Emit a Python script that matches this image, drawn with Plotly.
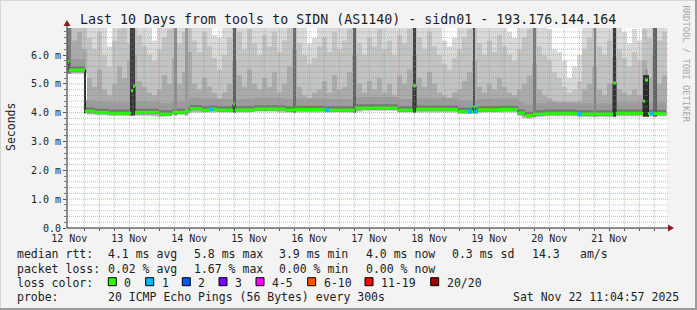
import plotly.graph_objects as go
import pandas as pd

# ---------------- data ----------------
title_text = "Last 10 Days from tools to SIDN (AS1140) - sidn01 - 193.176.144.164"
t_start = pd.Timestamp("2025-11-12 11:04:57")
t_end = pd.Timestamp("2025-11-22 11:04:57")
day_label_times = pd.date_range("2025-11-12 12:00", "2025-11-21 12:00", freq="D")
midnights = pd.date_range("2025-11-13 00:00", "2025-11-22 00:00", freq="D")
six_hour_times = pd.date_range("2025-11-12 18:00", "2025-11-22 06:00", freq="6h")
y_major = [0, 1, 2, 3, 4, 5, 6]
y_major_text = ["0.0", "1.0 m", "2.0 m", "3.0 m", "4.0 m", "5.0 m", "6.0 m"]

bin_hours = 2.0  # smoke bins (hours since start)
smoke_low = [5.33, 5.33, 5.33, 5.33, 3.92, 3.92, 3.9, 3.9, 3.88, 3.88,
             3.88, 3.88, 3.88, 3.88, 3.88, 3.88, 3.87, 3.86, 3.85, 3.86,
             3.9, 3.92, 3.94, 3.96, 3.98, 3.99, 3.99, 3.99, 4.0, 4.0,
             4.0, 4.0, 4.0, 4.0, 4.0, 4.0, 4.0, 4.02, 4.02, 4.02,
             4.02, 4.02, 4.0, 4.0, 4.0, 4.0, 4.0, 4.0, 4.0, 4.0,
             4.0, 4.0, 4.0, 4.0, 4.0, 4.0, 4.0, 4.0, 4.02, 4.05,
             4.05, 4.05, 4.05, 4.05, 4.05, 4.05, 4.0, 4.0, 4.0, 4.0,
             4.0, 4.0, 4.0, 4.0, 4.0, 4.0, 4.0, 4.0, 3.96, 3.95,
             3.95, 3.96, 3.98, 4.0, 4.0, 4.0, 4.0, 4.0, 4.0, 4.0,
             3.88, 3.8, 3.78, 3.82, 3.84, 3.86, 3.86, 3.86, 3.86, 3.86,
             3.86, 3.86, 3.84, 3.84, 3.84, 3.84, 3.84, 3.84, 3.84, 3.84,
             3.86, 3.86, 3.86, 3.86, 3.86, 3.86, 3.86, 3.86, 3.86, 3.86]
smoke_max = [7, 7, 7, 7, 7, 7, 7, 7, 6.3, 7,
             7, 7, 7, 7, 7, 7, 7, 6.5, 7, 7,
             7, 7, 7, 7, 7, 7, 7, 7, 7, 6.7,
             6.6, 7, 7, 7, 7, 7, 7, 7, 7, 7,
             7, 7, 7, 7, 7, 7, 7, 7, 6.4, 6.6,
             7, 7, 7, 7, 7, 7, 7, 7, 7, 7,
             7, 7, 7, 7, 7, 7, 7, 7, 7, 7,
             7, 7, 7, 7, 7, 6.5, 6.3, 6.6, 7, 7,
             7, 7, 7, 7, 7, 7, 7, 7, 6.8, 6.6,
             7, 7, 7, 7, 7, 7, 6.9, 6.2, 6.1, 5.8,
             5.2, 5.6, 6.0, 7, 7, 7, 7, 7, 7, 7,
             7, 6.8, 6.4, 6.9, 6.5, 7, 7, 7, 7, 7]
smoke_p90 = [7, 7, 7, 7, 6.6, 6.2, 6.8, 6.0, 5.6, 6.5,
             6.9, 7, 6.4, 7, 6.7, 6.3, 6.0, 5.8, 6.2, 6.6,
             6.9, 7, 6.4, 6.8, 7, 6.5, 6.1, 6.8, 6.3, 5.9,
             5.5, 6.0, 6.6, 7, 6.8, 6.2, 6.9, 6.4, 6.0, 6.7,
             6.3, 6.8, 6.1, 6.5, 7, 7, 6.4, 6.0, 5.7, 5.9,
             6.3, 6.6, 6.1, 6.8, 6.2, 6.5, 6.9, 7, 6.4, 6.0,
             6.6, 6.3, 6.9, 6.2, 6.5, 6.0, 6.7, 6.4, 6.9, 7,
             6.6, 6.2, 6.8, 6.3, 6.0, 5.7, 5.5, 5.9, 6.2, 6.6,
             6.9, 7, 6.4, 6.0, 6.5, 6.1, 6.7, 6.3, 6.0, 5.8,
             6.2, 6.6, 6.9, 7, 6.3, 6.0, 5.8, 5.4, 5.2, 4.9,
             4.7, 4.8, 5.1, 6.2, 6.6, 7, 6.3, 6.0, 6.5, 7,
             6.2, 5.9, 5.6, 6.1, 5.8, 6.9, 6.6, 7, 6.5, 6.8]
smoke_p75 = [7, 6.5, 6.8, 6.2, 5.2, 4.9, 5.5, 4.8, 4.6, 5.0,
             5.6, 5.2, 5.8, 6.0, 5.1, 4.9, 4.7, 4.6, 4.8, 5.3,
             5.0, 5.9, 5.0, 5.4, 6.1, 5.0, 4.8, 5.2, 4.9, 4.7,
             4.5, 4.7, 5.0, 5.8, 5.3, 4.9, 5.5, 5.0, 4.8, 5.2,
             4.9, 5.4, 4.7, 5.0, 5.6, 6.2, 4.9, 4.6, 4.5, 4.7,
             4.8, 5.1, 4.7, 5.3, 4.8, 4.9, 5.4, 6.0, 5.0, 4.7,
             5.1, 4.8, 5.2, 4.7, 5.0, 4.6, 5.3, 5.0, 5.5, 6.0,
             5.2, 4.9, 5.4, 5.0, 4.7, 4.6, 4.5, 4.7, 4.8, 5.1,
             5.4, 5.8, 4.9, 4.7, 5.0, 4.8, 5.2, 4.9, 4.7, 4.6,
             4.8, 5.0, 5.3, 5.7, 4.8, 4.6, 4.5, 4.4, 4.3, 4.3,
             4.2, 4.3, 4.4, 4.8, 5.0, 5.6, 4.8, 4.6, 5.0, 5.9,
             4.8, 4.7, 4.6, 4.8, 4.6, 5.8, 5.2, 6.0, 5.0, 5.3]

# median rtt (step changes, hours since start) in ms
med_hours = [0, 0.8, 7.2, 11.2, 16.8, 24.8, 25.6, 26.4, 27.2, 36.8,
             42, 47.2, 49.2, 54, 56.8, 60, 66.4, 67.2, 75.2, 87.2,
             91.2, 103.2, 115.2, 132.4, 138.4, 139.6, 156.4, 162.4, 163.2, 164.4,
             173.6, 180.4, 183.2, 186.4, 191.2, 204, 218.4, 219.6, 230.4, 231.2,
             232.4]
med_vals = [5.76, 5.48, 4.05, 4.01, 3.98, 3.99, 4.76, 4.92, 4.01, 3.95,
            4.01, 4.05, 4.14, 4.09, 4.12, 4.09, 4.30, 4.10, 4.13, 4.09,
            4.11, 4.09, 4.16, 4.09, 4.93, 4.12, 4.04, 4.20, 4.04, 4.10,
            4.11, 3.99, 3.90, 3.95, 3.98, 3.95, 5.03, 3.98, 4.40, 5.13,
            3.97]
med_end_hour = 239.6

# bins with 1 lost ping out of 20
loss1_hours = [58, 104, 161.2, 163.6, 205.2, 234]
loss1_vals = [4.12, 4.09, 4.04, 4.04, 3.95, 3.97]

# dark smoke columns (many slow pings)
spike_from = [0.4, 6.8, 25.2, 42.8, 47.2, 66.4, 90.4, 114.4, 138.4, 162.4, 186.4, 210.8, 218.4, 230.4, 234.4]
spike_to = [1.6, 7.6, 27.2, 44.0, 48.4, 67.6, 91.6, 115.6, 139.6, 163.2, 187.6, 211.6, 219.6, 232.8, 236.0]
spike_low = [5.35, 3.98, 3.9, 3.9, 3.9, 4.0, 4.0, 4.0, 4.0, 3.98, 3.86, 3.86, 3.86, 3.86, 3.86]
spike_high = [7, 5.5, 7, 7, 7, 7, 7, 7, 7, 7, 7, 7, 7, 5.3, 7]
spike_gray = ["#7a7a7a", "#303030", "#404040", "#8e8e8e", "#9a9a9a", "#5c5c5c", "#6a6a6a", "#5e5e5e",
              "#3a3a3a", "#4a4a4a", "#7a7a7a", "#828282", "#3a3a3a", "#2e2e2e", "#626262"]

loss_labels = ["0", "1", "2", "3", "4-5", "6-10", "11-19", "20/20"]
loss_colors = ["#26ff00", "#00b8ff", "#0059ff", "#7e00ff", "#ff00ff", "#ff5500", "#ff0000", "#a10000"]
loss_box_x = [108.3, 145.7, 182.3, 219.0, 256.0, 307.7, 365.0, 430.7]

rtt_items = ["4.1 ms avg", "5.8 ms max", "3.9 ms min", "4.0 ms now", "0.3 ms sd", "14.3", "am/s"]
loss_items = ["0.02 % avg", "1.67 % max", "0.00 % min", "0.00 % now"]
item_x = [106.7, 192.7, 278.3, 365.0, 451.0, 530.7, 579.3]
probe_text = "20 ICMP Echo Pings (56 Bytes) every 300s"
stamp_text = "Sat Nov 22 11:04:57 2025"

# ---------------- layout geometry ----------------
W, H = 697, 310
L, R, T, B = 67, 667, 28, 228
YMAX = (B - 28) / ((B - 55) / 6.0)
MONO = "DejaVu Sans Mono"


def px(x):
    return (x - L) / (R - L)


def py(y):
    return (B - y) / (B - T)


def tm(h):
    return t_start + pd.to_timedelta(h, unit="h")


fig = go.Figure()

# smoke layers (step areas)
n = len(smoke_low)
edges = [tm(i * bin_hours) for i in range(n + 1)]


def step_area(lo, hi, color):
    fig.add_trace(go.Scatter(x=edges, y=list(lo) + [lo[-1]], mode="lines", line=dict(width=0, shape="hv"),
                             hoverinfo="skip"))
    fig.add_trace(go.Scatter(x=edges, y=list(hi) + [hi[-1]], mode="lines", line=dict(width=0, shape="hv"),
                             fill="tonexty", fillcolor=color, hoverinfo="skip"))


step_area(smoke_low, smoke_max, "#d9d9d9")
step_area([v + 0.03 for v in smoke_low], smoke_p90, "#c3c3c3")
step_area([v + 0.05 for v in smoke_low], smoke_p75, "#ababab")

# inner bands around median
mx = [tm(h) for h in med_hours] + [tm(med_end_hour)]
mv = med_vals + [med_vals[-1]]
fig.add_trace(go.Scatter(x=mx, y=[v - 0.07 for v in mv], mode="lines", line=dict(width=0, shape="hv"), hoverinfo="skip"))
fig.add_trace(go.Scatter(x=mx, y=[v + 0.38 for v in mv], mode="lines", line=dict(width=0, shape="hv"),
                         fill="tonexty", fillcolor="#9c9c9c", hoverinfo="skip"))
fig.add_trace(go.Scatter(x=mx, y=[v - 0.05 for v in mv], mode="lines", line=dict(width=0, shape="hv"), hoverinfo="skip"))
fig.add_trace(go.Scatter(x=mx, y=[v + 0.13 for v in mv], mode="lines", line=dict(width=0, shape="hv"),
                         fill="tonexty", fillcolor="#767676", hoverinfo="skip"))

# dark columns (closed polygons so they sit above the smoke fills)
for a, b, lo, hi, c in zip(spike_from, spike_to, spike_low, spike_high, spike_gray):
    fig.add_trace(go.Scatter(x=[tm(a), tm(b), tm(b), tm(a), tm(a)], y=[lo, lo, hi, hi, lo],
                             mode="lines", line=dict(width=0), fill="toself", fillcolor=c, hoverinfo="skip"))

# median: thin dark step line + green per-bin segments
fig.add_trace(go.Scatter(x=mx, y=mv, mode="lines", line=dict(width=1, color="#202020", shape="hv"), hoverinfo="skip"))
gx, gy = [], []
ends = med_hours[1:] + [med_end_hour]
for h0, h1, v in zip(med_hours, ends, med_vals):
    gx += [tm(h0), tm(h1), None]
    gy += [v, v, None]
fig.add_trace(go.Scatter(x=gx, y=gy, mode="lines", line=dict(width=3, color=loss_colors[0]), hoverinfo="skip"))
fig.add_trace(go.Scatter(x=[tm(h) for h in loss1_hours], y=loss1_vals, mode="markers",
                         marker=dict(symbol="square", size=4, color=loss_colors[1], line=dict(width=0)),
                         hoverinfo="skip"))

# grid lines drawn above the data, like rrdtool
shapes = []
GRID = "rgba(140,140,140,0.55)"
MGRID = "rgba(255,90,90,0.55)"
k = 1
while k * 0.2 < YMAX:
    v = round(k * 0.2, 1)
    major = abs(v - round(v)) < 1e-9
    shapes.append(dict(type="line", xref="paper", yref="y", x0=0, x1=1.002, y0=v, y1=v, layer="above",
                       line=dict(color=MGRID if major else GRID, width=1, dash="1px,1px")))
    k += 1
for t in six_hour_times:
    if t.hour != 0:
        shapes.append(dict(type="line", xref="x", yref="paper", x0=t, x1=t, y0=0, y1=1, layer="above",
                           line=dict(color=GRID, width=1, dash="1px,1px")))
for t in midnights:
    if t < t_end:
        shapes.append(dict(type="line", xref="x", yref="paper", x0=t, x1=t, y0=0, y1=1, layer="above",
                           line=dict(color=MGRID, width=1, dash="1px,1px")))

# axis arrows
ARROW = "#8b1a1a"
shapes.append(dict(type="line", xref="paper", yref="paper", x0=px(67), x1=px(67), y0=py(228), y1=py(24),
                   line=dict(color="#222222", width=1), layer="above"))
shapes.append(dict(type="path", xref="paper", yref="paper",
                   path=f"M {px(63.5)} {py(26)} L {px(70.5)} {py(26)} L {px(67)} {py(20)} Z",
                   fillcolor=ARROW, line=dict(width=0), layer="above"))
shapes.append(dict(type="line", xref="paper", yref="paper", x0=px(67), x1=px(669), y0=py(228), y1=py(228),
                   line=dict(color="#222222", width=1), layer="above"))
shapes.append(dict(type="path", xref="paper", yref="paper",
                   path=f"M {px(668)} {py(224.5)} L {px(668)} {py(231.5)} L {px(674)} {py(228)} Z",
                   fillcolor=ARROW, line=dict(width=0), layer="above"))

# outer frame
shapes.append(dict(type="line", xref="paper", yref="paper", x0=px(0), x1=px(697), y0=py(0.5), y1=py(0.5),
                   line=dict(color="#d6d6d6", width=1)))
shapes.append(dict(type="line", xref="paper", yref="paper", x0=px(0.5), x1=px(0.5), y0=py(0), y1=py(310),
                   line=dict(color="#d6d6d6", width=1)))
shapes.append(dict(type="line", xref="paper", yref="paper", x0=px(0), x1=px(697), y0=py(309), y1=py(309),
                   line=dict(color="#9c9c9c", width=2)))
shapes.append(dict(type="line", xref="paper", yref="paper", x0=px(696), x1=px(696), y0=py(0), y1=py(310),
                   line=dict(color="#9c9c9c", width=2)))

# loss colour boxes
for bx, c in zip(loss_box_x, loss_colors):
    shapes.append(dict(type="rect", xref="paper", yref="paper", x0=px(bx), x1=px(bx + 8),
                       y0=py(285.7), y1=py(277.7), fillcolor=c, line=dict(color="#000000", width=1)))


def ann(text, x, y, size=11.5, xanchor="left", color="#1c1c1c", angle=0):
    return dict(text=text.replace(" ", "\u00a0"), x=px(x), y=py(y), xref="paper", yref="paper",
                xanchor=xanchor, yanchor="middle", showarrow=False, textangle=angle, borderpad=0,
                font=dict(family=MONO, size=size, color=color))


anns = [ann(title_text, 347.5, 19, size=13.3, xanchor="center"),
        ann("Seconds", 11, 127, size=11.5, xanchor="center", angle=-90),
        ann("RRDTOOL / TOBI OETIKER", 686, 63.5, size=8.8, xanchor="center", color="#a8a8a8", angle=90)]
ROWS = [253.5, 268.5, 282.5, 297]
anns.append(ann("median rtt:", 16, ROWS[0]))
for t, x in zip(rtt_items, item_x):
    anns.append(ann(t, x, ROWS[0]))
anns.append(ann("packet loss:", 16, ROWS[1]))
for t, x in zip(loss_items, item_x):
    anns.append(ann(t, x, ROWS[1]))
anns.append(ann("loss color:", 16, ROWS[2]))
for lab, bx in zip(loss_labels, loss_box_x):
    anns.append(ann(lab, bx + 15, ROWS[2]))
anns.append(ann("probe:", 16, ROWS[3]))
anns.append(ann(probe_text, 107.3, ROWS[3]))
anns.append(ann(stamp_text, 680, ROWS[3], xanchor="right"))

fig.update_layout(
    width=W, height=H, autosize=False,
    margin=dict(l=L, r=W - R, t=T, b=H - B, pad=0),
    paper_bgcolor="#f3f3f3", plot_bgcolor="#ffffff",
    showlegend=False, hovermode=False,
    shapes=shapes, annotations=anns,
    xaxis=dict(type="date", range=[t_start, t_end], showgrid=False, zeroline=False,
               tickmode="array", tickvals=list(day_label_times), tickformat="%d %b",
               ticks="", ticklabelstandoff=3, tickfont=dict(family=MONO, size=10, color="#1c1c1c"),
               minor=dict(tickmode="array", tickvals=list(six_hour_times), ticks="outside", ticklen=2,
                          tickcolor="#555555", showgrid=False),
               showline=False, fixedrange=True),
    yaxis=dict(range=[0, YMAX], showgrid=False, zeroline=False,
               tickmode="array", tickvals=y_major, ticktext=y_major_text,
               ticks="outside", ticklen=3, tickcolor="#555555",
               tickfont=dict(family=MONO, size=10, color="#1c1c1c"),
               minor=dict(dtick=0.2, ticks="outside", ticklen=2, tickcolor="#777777", showgrid=False),
               showline=False, fixedrange=True),
)

fig.write_html("out.html")
